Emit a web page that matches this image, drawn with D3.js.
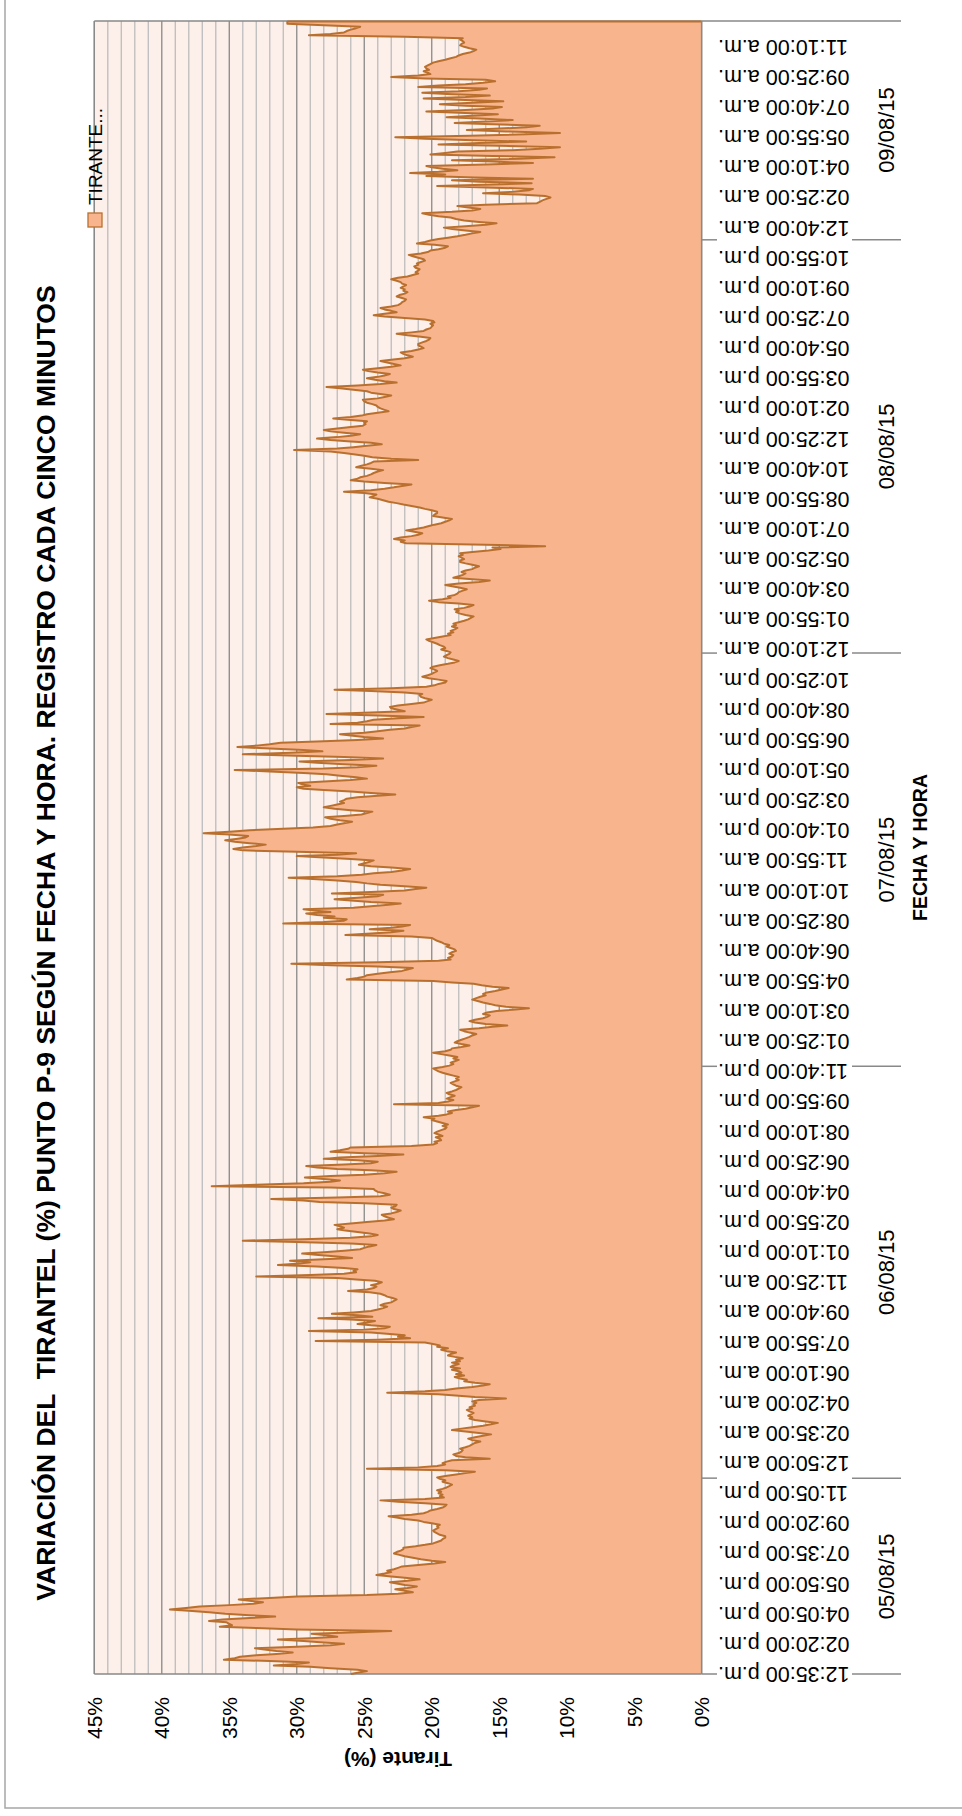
<!DOCTYPE html>
<html><head><meta charset="utf-8">
<script src="https://cdn.jsdelivr.net/npm/d3@7"></script>
<style>
body{margin:0;background:#fff}
svg{display:block}
text{font-family:"Liberation Sans",Arial,sans-serif;fill:#000}
</style>
</head><body>
<svg id="c" width="962" height="1816"></svg>
<script>
const chartTitle = "VARIACIÓN DEL  TIRANTEL (%) PUNTO P-9 SEGÚN FECHA Y HORA. REGISTRO CADA CINCO MINUTOS";
const seriesName = "TIRANTE...";
const valueAxisTitle = "Tirante (%)";
const categoryAxisTitle = "FECHA Y HORA";
const valueTicks = [0,5,10,15,20,25,30,35,40,45];
const dateLabels = ["05/08/15","06/08/15","07/08/15","08/08/15","09/08/15"];
const dateStarts = [0,137,424,712,1000];
const labelEvery = 21;
const timeLabels = [
"12:35:00 p.m.","02:20:00 p.m.","04:05:00 p.m.","05:50:00 p.m.","07:35:00 p.m.","09:20:00 p.m.","11:05:00 p.m.",
"12:50:00 a.m.","02:35:00 a.m.","04:20:00 a.m.","06:10:00 a.m.","07:55:00 a.m.","09:40:00 a.m.","11:25:00 a.m.","01:10:00 p.m.","02:55:00 p.m.","04:40:00 p.m.","06:25:00 p.m.","08:10:00 p.m.","09:55:00 p.m.","11:40:00 p.m.",
"01:25:00 a.m.","03:10:00 a.m.","04:55:00 a.m.","06:40:00 a.m.","08:25:00 a.m.","10:10:00 a.m.","11:55:00 a.m.","01:40:00 p.m.","03:25:00 p.m.","05:10:00 p.m.","06:55:00 p.m.","08:40:00 p.m.","10:25:00 p.m.",
"12:10:00 a.m.","01:55:00 a.m.","03:40:00 a.m.","05:25:00 a.m.","07:10:00 a.m.","08:55:00 a.m.","10:40:00 a.m.","12:25:00 p.m.","02:10:00 p.m.","03:55:00 p.m.","05:40:00 p.m.","07:25:00 p.m.","09:10:00 p.m.","10:55:00 p.m.",
"12:40:00 a.m.","02:25:00 a.m.","04:10:00 a.m.","05:55:00 a.m.","07:40:00 a.m.","09:25:00 a.m.","11:10:00 a.m."
];
// Tirante (%) every 5 minutes
const tirante = [
26.0,25.4,24.8,25.5,27.5,29.0,31.7,30.0,29.1,32.0,
35.4,34.6,34.2,33.0,31.5,30.3,31.5,32.4,33.1,30.0,
27.5,26.5,28.0,29.5,31.4,29.0,27.0,27.8,28.9,26.0,
23.0,30.0,33.0,35.7,34.8,35.0,35.2,36.5,35.5,33.5,
31.6,33.5,35.3,36.5,38.0,39.4,38.2,37.2,35.0,33.2,
32.5,33.5,34.3,32.0,30.0,24.8,22.5,21.4,22.0,22.7,
21.8,21.1,22.0,22.6,23.1,21.8,20.9,22.0,23.0,24.1,
23.5,23.0,23.3,22.8,22.5,22.2,21.0,19.8,19.0,20.0,
20.8,21.4,22.0,22.4,22.8,22.6,22.3,22.1,22.1,21.2,
20.5,19.9,19.6,19.3,19.2,19.0,19.0,19.4,19.6,19.8,
19.9,19.7,19.5,19.6,19.4,20.0,20.6,21.0,22.0,22.6,
23.2,21.5,20.6,20.3,20.1,19.6,19.2,19.0,18.9,20.5,
22.5,23.8,20.5,19.1,19.4,19.2,19.5,19.3,19.6,19.2,
18.9,18.7,18.5,18.8,19.2,19.0,19.4,19.6,19.0,18.2,
17.5,16.8,19.0,24.8,21.0,19.6,19.0,19.2,18.9,18.5,
15.7,17.5,18.2,18.4,18.0,17.8,17.7,17.9,17.5,17.2,
17.0,16.8,16.4,17.0,17.3,16.8,16.2,15.6,16.5,17.5,
18.5,17.8,17.0,16.2,15.6,15.1,16.0,16.8,17.2,17.0,
17.3,17.1,16.9,17.2,17.4,17.0,17.2,16.8,16.9,16.7,
17.0,16.5,14.5,16.8,18.0,19.5,23.3,20.5,19.0,18.2,
17.0,16.2,15.7,16.8,17.6,17.4,17.9,18.3,17.6,18.2,
17.8,18.0,18.5,17.9,18.6,18.4,18.0,18.5,17.9,18.2,
17.7,18.3,18.8,18.6,18.2,18.9,19.3,18.8,19.6,19.4,
19.9,20.5,28.6,24.0,21.6,22.5,22.0,23.1,24.5,29.1,
25.0,23.5,23.1,24.5,25.5,24.8,24.2,26.0,28.4,24.4,
25.5,27.4,25.8,24.5,24.0,23.6,23.3,23.8,23.5,23.0,
22.8,22.6,22.9,23.3,23.5,23.8,24.6,26.2,24.8,24.3,
24.1,24.5,24.0,23.7,24.2,25.6,27.0,33.0,29.0,26.5,
25.6,25.8,25.5,26.5,28.5,31.4,29.8,29.0,30.5,28.0,
25.9,27.0,28.4,29.6,28.0,26.5,25.3,25.0,24.6,24.1,
26.0,30.0,34.0,29.5,26.0,24.5,24.0,24.6,25.5,26.4,
27.0,26.5,26.8,27.2,26.0,24.8,23.5,22.8,23.2,23.5,
23.7,23.0,22.6,22.3,22.8,23.0,22.7,22.6,25.0,28.3,
29.5,31.9,27.0,23.8,23.1,23.5,24.0,24.2,24.3,27.5,
36.3,33.0,29.5,27.5,26.8,28.0,29.4,27.5,25.0,23.5,
22.6,24.5,27.0,28.5,29.3,26.5,24.5,24.0,25.5,28.0,
26.8,24.0,22.1,25.0,27.5,26.8,26.2,26.0,21.5,19.9,
19.6,19.8,19.3,19.4,19.7,19.2,19.5,19.8,19.6,19.3,
19.0,18.9,19.2,18.8,19.2,19.6,20.0,19.8,20.6,19.5,
18.9,18.5,18.8,18.2,17.5,17.0,16.5,22.8,19.5,18.8,
18.4,18.9,18.6,18.3,18.7,18.9,18.5,18.2,18.0,17.8,
18.2,18.4,18.6,18.3,18.0,18.2,18.0,18.4,18.8,19.2,
19.5,19.7,19.9,19.2,18.7,18.4,18.6,18.3,18.0,18.4,
18.1,18.7,19.3,19.9,19.0,18.6,18.5,17.8,17.2,17.8,
18.3,18.1,17.8,17.5,17.2,17.0,16.7,17.2,17.6,17.9,
16.5,15.5,14.4,16.0,16.8,17.2,16.8,16.2,15.9,15.7,
16.2,15.9,15.2,14.0,12.8,14.5,15.3,15.7,16.2,16.6,
17.0,16.7,16.4,16.0,16.2,15.9,15.3,14.8,14.3,15.5,
16.3,16.9,18.5,19.9,26.3,25.5,25.0,24.8,24.0,23.1,
22.2,21.8,21.4,24.0,27.5,30.4,24.0,19.5,18.6,18.8,
18.5,18.4,18.7,18.5,18.2,18.3,18.6,18.9,18.7,19.1,
19.3,19.6,19.8,20.0,21.5,26.4,24.5,23.0,22.1,24.6,
23.0,22.2,21.6,31.0,28.0,26.5,26.3,28.0,27.2,28.5,
29.3,27.5,28.6,29.5,25.8,24.5,23.4,22.3,24.5,26.0,
27.2,25.5,24.0,23.6,27.4,24.5,22.0,21.2,20.4,22.0,
23.8,24.8,25.6,27.0,28.8,30.6,27.0,25.2,24.3,23.0,
22.2,21.6,23.0,24.5,25.4,25.0,24.6,24.3,26.0,28.0,
30.0,27.0,25.6,30.0,34.0,34.7,34.0,33.0,32.3,33.5,
34.6,35.3,34.5,33.8,33.6,35.0,36.9,35.0,33.5,31.0,
28.8,27.5,27.0,26.4,25.9,26.8,27.5,27.9,26.5,25.2,
24.8,24.4,26.0,27.2,28.0,27.5,27.0,26.5,26.8,26.5,
26.3,25.5,24.0,22.7,24.5,26.0,28.0,29.5,30.0,29.0,
29.6,29.9,28.0,26.0,24.8,25.6,26.8,27.8,29.5,32.0,
34.6,28.0,25.5,24.1,26.5,28.5,29.8,26.0,23.6,26.5,
30.0,34.0,30.5,28.1,29.5,32.0,34.4,33.0,32.0,31.2,
28.0,25.5,23.6,25.0,26.0,26.8,25.0,24.0,23.1,22.0,
21.5,20.9,27.5,25.5,24.8,24.3,22.5,20.6,24.0,27.8,
24.5,22.0,22.5,23.0,23.1,22.5,21.5,20.6,20.3,20.0,
20.5,20.8,20.9,20.7,22.0,24.5,27.2,23.0,20.4,19.8,
19.5,19.0,18.9,19.5,20.2,20.7,20.3,20.0,19.8,19.6,
19.8,20.1,19.9,19.4,18.8,18.3,18.0,18.4,18.8,19.1,
18.9,18.7,18.6,18.9,19.3,19.0,19.1,19.4,19.6,19.9,
20.2,20.4,19.8,19.2,18.6,18.8,18.4,18.6,18.3,18.1,
18.5,18.2,18.4,18.0,17.6,17.3,17.1,16.9,17.5,17.9,
18.2,18.0,18.3,17.6,17.2,16.9,18.0,19.5,20.2,19.2,
18.6,18.8,18.3,18.1,18.0,17.7,17.4,17.9,18.5,19.0,
18.0,16.5,15.7,17.0,18.4,18.0,17.7,17.5,17.8,17.5,
17.0,16.8,16.5,17.0,17.5,17.9,17.9,17.6,17.8,18.0,
17.7,17.9,17.0,15.8,14.9,15.5,11.6,16.0,21.9,22.3,
22.0,22.8,22.3,21.5,21.0,20.7,21.3,21.9,21.2,20.6,
20.2,19.8,19.3,19.0,18.7,18.5,19.2,19.9,19.8,19.6,
19.6,20.0,20.5,20.9,21.5,22.1,22.6,23.2,23.6,24.0,
24.6,24.3,24.1,25.0,26.5,24.5,23.5,22.8,22.2,21.5,
23.5,25.0,26.0,25.5,25.3,24.8,24.5,24.3,24.0,23.6,
24.5,25.6,25.2,24.8,24.5,24.3,21.0,23.0,24.4,25.0,
25.8,26.5,27.5,30.2,27.0,25.8,24.8,23.7,24.5,26.0,
27.5,28.5,27.0,26.0,25.3,26.5,27.5,28.0,27.0,26.0,
25.1,24.9,25.0,24.8,26.0,27.3,26.0,25.2,24.8,24.0,
23.2,23.5,23.8,24.0,24.1,24.4,24.8,25.0,25.1,24.0,
23.5,23.0,23.8,24.5,24.8,25.8,26.8,27.8,25.5,23.8,
22.6,23.5,24.2,24.8,24.0,23.5,23.1,24.0,24.7,25.1,
24.0,23.0,22.3,22.8,23.3,23.8,23.0,22.0,21.4,21.8,
22.1,22.3,21.5,21.0,20.6,20.8,21.0,21.0,20.7,20.4,
20.2,20.1,20.8,21.8,22.6,21.5,20.6,20.4,20.1,20.0,
19.9,20.1,19.8,19.9,20.5,22.0,23.5,24.3,23.5,22.6,
23.0,23.5,23.8,23.0,22.5,22.3,22.2,22.0,21.9,22.2,
22.6,22.4,22.0,21.8,22.1,22.0,22.3,22.1,21.9,22.2,
22.3,22.6,23.0,22.5,21.8,21.4,21.0,21.2,21.0,20.9,
21.2,21.3,21.0,21.1,20.8,20.5,20.6,21.0,21.4,21.7,
20.8,20.3,20.1,19.5,19.0,18.8,19.8,21.1,20.5,20.1,
19.5,18.8,18.1,17.5,17.0,16.4,17.5,18.5,19.1,17.5,
16.0,15.2,16.5,17.6,18.2,18.6,19.5,20.2,20.7,18.5,
17.0,16.4,17.3,18.1,16.0,12.2,12.0,11.8,11.5,11.2,
11.6,13.5,16.2,14.0,12.8,12.5,16.0,19.6,15.5,12.6,
16.5,18.5,12.5,16.8,20.4,19.0,21.6,19.5,18.1,19.2,
20.0,20.4,16.0,12.5,15.5,18.5,13.5,10.9,15.5,20.1,
19.0,18.1,14.0,12.0,10.5,15.0,19.5,16.5,13.0,17.5,
20.5,22.7,17.2,13.0,10.5,14.5,17.4,15.0,13.0,12.0,
15.5,18.3,16.0,14.0,16.5,18.9,17.0,15.1,18.0,20.4,
17.5,15.5,14.8,17.5,19.4,17.0,14.7,17.5,20.6,17.5,
15.7,18.5,20.7,18.0,16.5,15.9,21.0,19.5,17.5,16.2,
15.3,16.0,20.5,23.0,21.0,20.1,20.3,20.6,20.2,20.4,
20.5,20.3,20.1,19.9,19.5,19.0,18.6,18.2,18.0,17.7,
17.2,16.9,16.7,17.2,17.6,17.9,17.8,17.6,17.7,17.9,
17.7,22.0,29.1,27.5,26.5,26.3,26.0,25.6,25.3,28.0,
30.7,30.7,30.7
];

const N = tirante.length;
const svg = d3.select("#c");
const L = 94.3, R = 701.7, T = 21, B = 1674;
const x = d3.scaleLinear().domain([0, 45]).range([R, L]);
const y = d3.scaleLinear().domain([0, N - 1]).range([B, T]);

const AREA = "#f8b48c", LINE = "#b9702f", GRID = "#bdbdbd", MAJOR = "#898989";

// outer chart border
svg.append("rect").attr("x", 5).attr("y", -10).attr("width", 980).attr("height", 1818)
  .attr("fill", "#fff").attr("stroke", "#a6a6a6").attr("stroke-width", 1.5);

// plot background
svg.append("rect").attr("x", L).attr("y", T).attr("width", R - L).attr("height", B - T).attr("fill", "#fdefe9");

// gridlines
const minor = d3.range(1, 45).filter(v => v % 5 !== 0);
svg.append("g").selectAll("line").data(minor).join("line")
  .attr("x1", d => x(d)).attr("x2", d => x(d)).attr("y1", T).attr("y2", B)
  .attr("stroke", GRID).attr("stroke-width", 1.3);
svg.append("g").selectAll("line").data(valueTicks.filter(v => v > 0)).join("line")
  .attr("x1", d => x(d)).attr("x2", d => x(d)).attr("y1", T).attr("y2", B)
  .attr("stroke", MAJOR).attr("stroke-width", 1.3);

// area + line
const area = d3.area().y((d, i) => y(i)).x0(x(0)).x1(d => x(d));
svg.append("path").datum(tirante).attr("d", area).attr("fill", AREA);
const line = d3.line().y((d, i) => y(i)).x(d => x(d));

// plot frame
svg.append("line").attr("x1", L).attr("x2", R).attr("y1", B).attr("y2", B).attr("stroke", MAJOR).attr("stroke-width", 1.6);
svg.append("line").attr("x1", L).attr("x2", R).attr("y1", T).attr("y2", T).attr("stroke", MAJOR).attr("stroke-width", 1.3);
svg.append("line").attr("x1", L).attr("x2", L).attr("y1", T).attr("y2", B).attr("stroke", MAJOR).attr("stroke-width", 1.3);

svg.append("path").datum(tirante).attr("d", line).attr("fill", "none")
  .attr("stroke", LINE).attr("stroke-width", 2).attr("stroke-linejoin", "round");
// closing edge of the area at the last point
svg.append("line").attr("x1", x(tirante[N - 1])).attr("x2", x(0)).attr("y1", T + 0.5).attr("y2", T + 0.5)
  .attr("stroke", LINE).attr("stroke-width", 2);

// category axis line
svg.append("line").attr("x1", R).attr("x2", R).attr("y1", T).attr("y2", B).attr("stroke", MAJOR).attr("stroke-width", 1.6);

// value tick labels
svg.append("g").selectAll("text").data(valueTicks).join("text")
  .attr("transform", d => `translate(${x(d)},1697) rotate(-90)`)
  .attr("text-anchor", "end").attr("dominant-baseline", "central")
  .style("font-size", "21px").text(d => d + "%");

// time labels (upside down)
svg.append("g").selectAll("text").data(timeLabels).join("text")
  .attr("transform", (d, k) => `translate(718,${y(k * labelEvery)}) rotate(180)`)
  .attr("text-anchor", "end").attr("dominant-baseline", "central")
  .style("font-size", "21.5px").text(d => d);

// date group separators
const seps = dateStarts.slice(1).map(s => y(s - 0.5));
svg.append("g").selectAll("g").data([B, ...seps]).join("g").each(function (yy) {
  const g = d3.select(this);
  g.append("line").attr("x1", R).attr("x2", 717).attr("y1", yy).attr("y2", yy).attr("stroke", MAJOR).attr("stroke-width", 1.5);
  g.append("line").attr("x1", 852).attr("x2", 901).attr("y1", yy).attr("y2", yy).attr("stroke", MAJOR).attr("stroke-width", 1.5);
});
svg.append("line").attr("x1", R).attr("x2", 901).attr("y1", T).attr("y2", T).attr("stroke", MAJOR).attr("stroke-width", 1.5);

// date labels
svg.append("g").selectAll("text").data(dateLabels).join("text")
  .attr("transform", (d, k) => {
    const s = dateStarts[k], e = k < dateStarts.length - 1 ? dateStarts[k + 1] - 1 : N - 1;
    return `translate(886,${y((s + e) / 2)}) rotate(-90)`;
  })
  .attr("text-anchor", "middle").attr("dominant-baseline", "central")
  .style("font-size", "22px").text(d => d);

// axis titles
svg.append("text").attr("transform", `translate(920,${(T + B) / 2}) rotate(-90)`)
  .attr("text-anchor", "middle").attr("dominant-baseline", "central")
  .style("font-size", "19.5px").style("font-weight", "bold").text(categoryAxisTitle);
svg.append("text").attr("transform", `translate(${(L + R) / 2},1759) rotate(180)`)
  .attr("text-anchor", "middle").attr("dominant-baseline", "central")
  .style("font-size", "21px").style("font-weight", "bold").text(valueAxisTitle);

// chart title
svg.append("text").attr("transform", `translate(46,943) rotate(-90)`)
  .attr("text-anchor", "middle").attr("dominant-baseline", "central")
  .style("white-space", "pre")
  .style("font-size", "26.5px").style("font-weight", "bold").text(chartTitle);

// legend
svg.append("rect").attr("x", 88).attr("y", 213).attr("width", 14).attr("height", 14)
  .attr("fill", AREA).attr("stroke", LINE).attr("stroke-width", 1.3);
svg.append("text").attr("transform", `translate(95,205) rotate(-90)`)
  .attr("text-anchor", "start").attr("dominant-baseline", "central")
  .style("font-size", "19px").text(seriesName);
</script>
</body></html>
